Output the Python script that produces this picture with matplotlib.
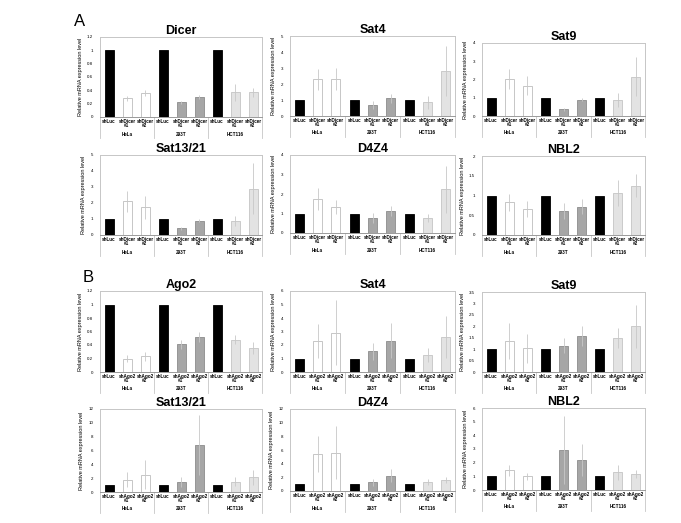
import matplotlib
matplotlib.use("Agg")
from matplotlib import pyplot as plt
import matplotlib.transforms as mtransforms

plt.rcParams['font.family'] = ['Liberation Sans', 'DejaVu Sans']

groups = ["HeLa", "293T", "HCT116"]

# panel A: shDicer knockdown
a_dicer_vals = [1, 0.28, 0.36, 1, 0.22, 0.30, 1, 0.37, 0.37]
a_dicer_err = [0, 0.04, 0.05, 0, 0.02, 0.03, 0, 0.13, 0.07]
a_sat4_vals = [1, 2.3, 2.3, 1, 0.7, 1.1, 1, 0.85, 2.8]
a_sat4_err = [0, 0.65, 0.7, 0, 0.25, 0.3, 0, 0.4, 1.55]
a_sat9_vals = [1, 2.05, 1.67, 1, 0.38, 0.9, 1, 0.87, 2.16]
a_sat9_err = [0, 0.55, 0.5, 0, 0.08, 0.06, 0, 0.4, 1.05]
a_sat13_vals = [1, 2.1, 1.73, 1, 0.42, 0.9, 1, 0.87, 2.9]
a_sat13_err = [0, 0.65, 0.7, 0, 0.1, 0.1, 0, 0.3, 1.6]
a_d4z4_vals = [1, 1.74, 1.33, 1, 0.78, 1.14, 1, 0.78, 2.25]
a_d4z4_err = [0, 0.55, 0.38, 0, 0.25, 0.25, 0, 0.2, 1.2]
a_nbl2_vals = [1, 0.83, 0.65, 1, 0.61, 0.72, 1, 1.06, 1.25]
a_nbl2_err = [0, 0.21, 0.2, 0, 0.2, 0.18, 0, 0.33, 0.3]

# panel B: shAgo2 knockdown
b_ago2_vals = [1, 0.2, 0.23, 1, 0.41, 0.52, 1, 0.48, 0.36]
b_ago2_err = [0, 0.05, 0.06, 0, 0.07, 0.07, 0, 0.07, 0.09]
b_sat4_vals = [1, 2.3, 2.9, 1, 1.52, 2.33, 1, 1.27, 2.6]
b_sat4_err = [0, 1.28, 2.4, 0, 0.65, 1.3, 0, 0.5, 1.55]
b_sat9_vals = [1, 1.36, 1.03, 1, 1.15, 1.57, 1, 1.5, 2.0]
b_sat9_err = [0, 0.79, 0.62, 0, 0.33, 0.44, 0, 0.43, 0.94]
b_sat13_vals = [1, 1.8, 2.5, 1, 1.4, 6.8, 1, 1.5, 2.1]
b_sat13_err = [0, 1.05, 2.1, 0, 0.7, 4.35, 0, 0.65, 1.1]
b_d4z4_vals = [1, 5.4, 5.6, 1, 1.25, 2.25, 1, 1.3, 1.6]
b_d4z4_err = [0, 2.6, 3.9, 0, 0.5, 0.9, 0, 0.4, 0.45]
b_nbl2_vals = [1, 1.45, 1.0, 1, 2.94, 2.18, 1, 1.3, 1.15]
b_nbl2_err = [0, 0.4, 0.25, 0, 2.5, 1.15, 0, 0.55, 0.28]

bar_colors = ['black', 'white', 'white', 'black', '#a6a6a6', '#a6a6a6',
              'black', '#e3e3e3', '#e3e3e3']
edge_colors = ['black', '#bdbdbd', '#bdbdbd', 'black', '#8c8c8c', '#8c8c8c',
               'black', '#c4c4c4', '#c4c4c4']

W, H = 681, 523
fig = plt.figure(figsize=(W / 100, H / 100), dpi=100)


def panel(left, right, top, bottom, title, vals, err, ymax, ystep, kd):
    hgt = bottom - top
    ax = fig.add_axes([left / W, 1 - bottom / H, (right - left) / W, hgt / H])
    xs = list(range(9))
    ax.bar(xs, vals, width=0.5, color=bar_colors, edgecolor=edge_colors, linewidth=0.6)
    ax.errorbar(xs, vals, yerr=err, fmt='none', ecolor='#c8c8c8', elinewidth=0.6, capsize=0)
    ax.set_xlim(-0.5, 8.5)
    ax.set_ylim(0, ymax)
    ticks = []
    t = 0
    while t <= ymax + 1e-9:
        ticks.append(round(t, 2))
        t += ystep
    ax.set_yticks(ticks)
    ax.set_yticklabels([('%g' % v) for v in ticks], fontsize=3.2)
    ax.tick_params(axis='y', length=0, pad=5)
    ax.set_xticks(xs)
    ax.set_xticklabels(['shLuc', kd + '\n#1', kd + '\n#2'] * 3, fontsize=3.3,
                       fontweight='bold', linespacing=0.85)
    ax.tick_params(axis='x', length=0, pad=1.5)
    for s in ax.spines.values():
        s.set_color('#c6c6c6')
        s.set_linewidth(0.7)
    ax.spines['bottom'].set_color('#9a9a9a')
    ax.set_title(title, fontsize=9, fontweight='bold', pad=2)
    ax.set_ylabel('Relative mRNA expression level', fontsize=4, labelpad=3)
    trans = mtransforms.blended_transform_factory(ax.transData, ax.transAxes)
    for xb in [-0.5, 2.5, 5.5, 8.5]:
        ax.plot([xb, xb], [0, -21 / hgt], transform=trans, color='#c6c6c6',
                linewidth=0.6, clip_on=False)
    for i, g in enumerate(groups):
        ax.text(3 * i + 1, -17 / hgt, g, transform=trans, fontsize=3.3, ha='center',
                va='center', fontweight='bold')
    return ax


col_x = [(100, 262), (290, 455), (482, 645)]

# row A1
panel(*col_x[0], 37, 117, 'Dicer', a_dicer_vals, a_dicer_err, 1.2, 0.2, 'shDicer')
panel(*col_x[1], 36, 116, 'Sat4', a_sat4_vals, a_sat4_err, 5, 1, 'shDicer')
panel(*col_x[2], 43, 116, 'Sat9', a_sat9_vals, a_sat9_err, 4, 1, 'shDicer')
# row A2
panel(*col_x[0], 155, 235, 'Sat13/21', a_sat13_vals, a_sat13_err, 5, 1, 'shDicer')
panel(*col_x[1], 155, 233, 'D4Z4', a_d4z4_vals, a_d4z4_err, 4, 1, 'shDicer')
panel(*col_x[2], 156, 235, 'NBL2', a_nbl2_vals, a_nbl2_err, 2, 0.5, 'shDicer')
# row B1
panel(*col_x[0], 291, 372, 'Ago2', b_ago2_vals, b_ago2_err, 1.2, 0.2, 'shAgo2')
panel(*col_x[1], 291, 372, 'Sat4', b_sat4_vals, b_sat4_err, 6, 1, 'shAgo2')
panel(*col_x[2], 292, 372, 'Sat9', b_sat9_vals, b_sat9_err, 3.5, 0.5, 'shAgo2')
# row B2
panel(*col_x[0], 409, 492, 'Sat13/21', b_sat13_vals, b_sat13_err, 12, 2, 'shAgo2')
panel(*col_x[1], 409, 491, 'D4Z4', b_d4z4_vals, b_d4z4_err, 12, 2, 'shAgo2')
panel(*col_x[2], 408, 490, 'NBL2', b_nbl2_vals, b_nbl2_err, 6, 1, 'shAgo2')

fig.text(80 / W, 1 - 22 / H, 'A', fontsize=12, ha='center', va='center')
fig.text(88 / W, 1 - 277 / H, 'B', fontsize=12, ha='center', va='center')

fig.savefig('out.png', dpi=100)
